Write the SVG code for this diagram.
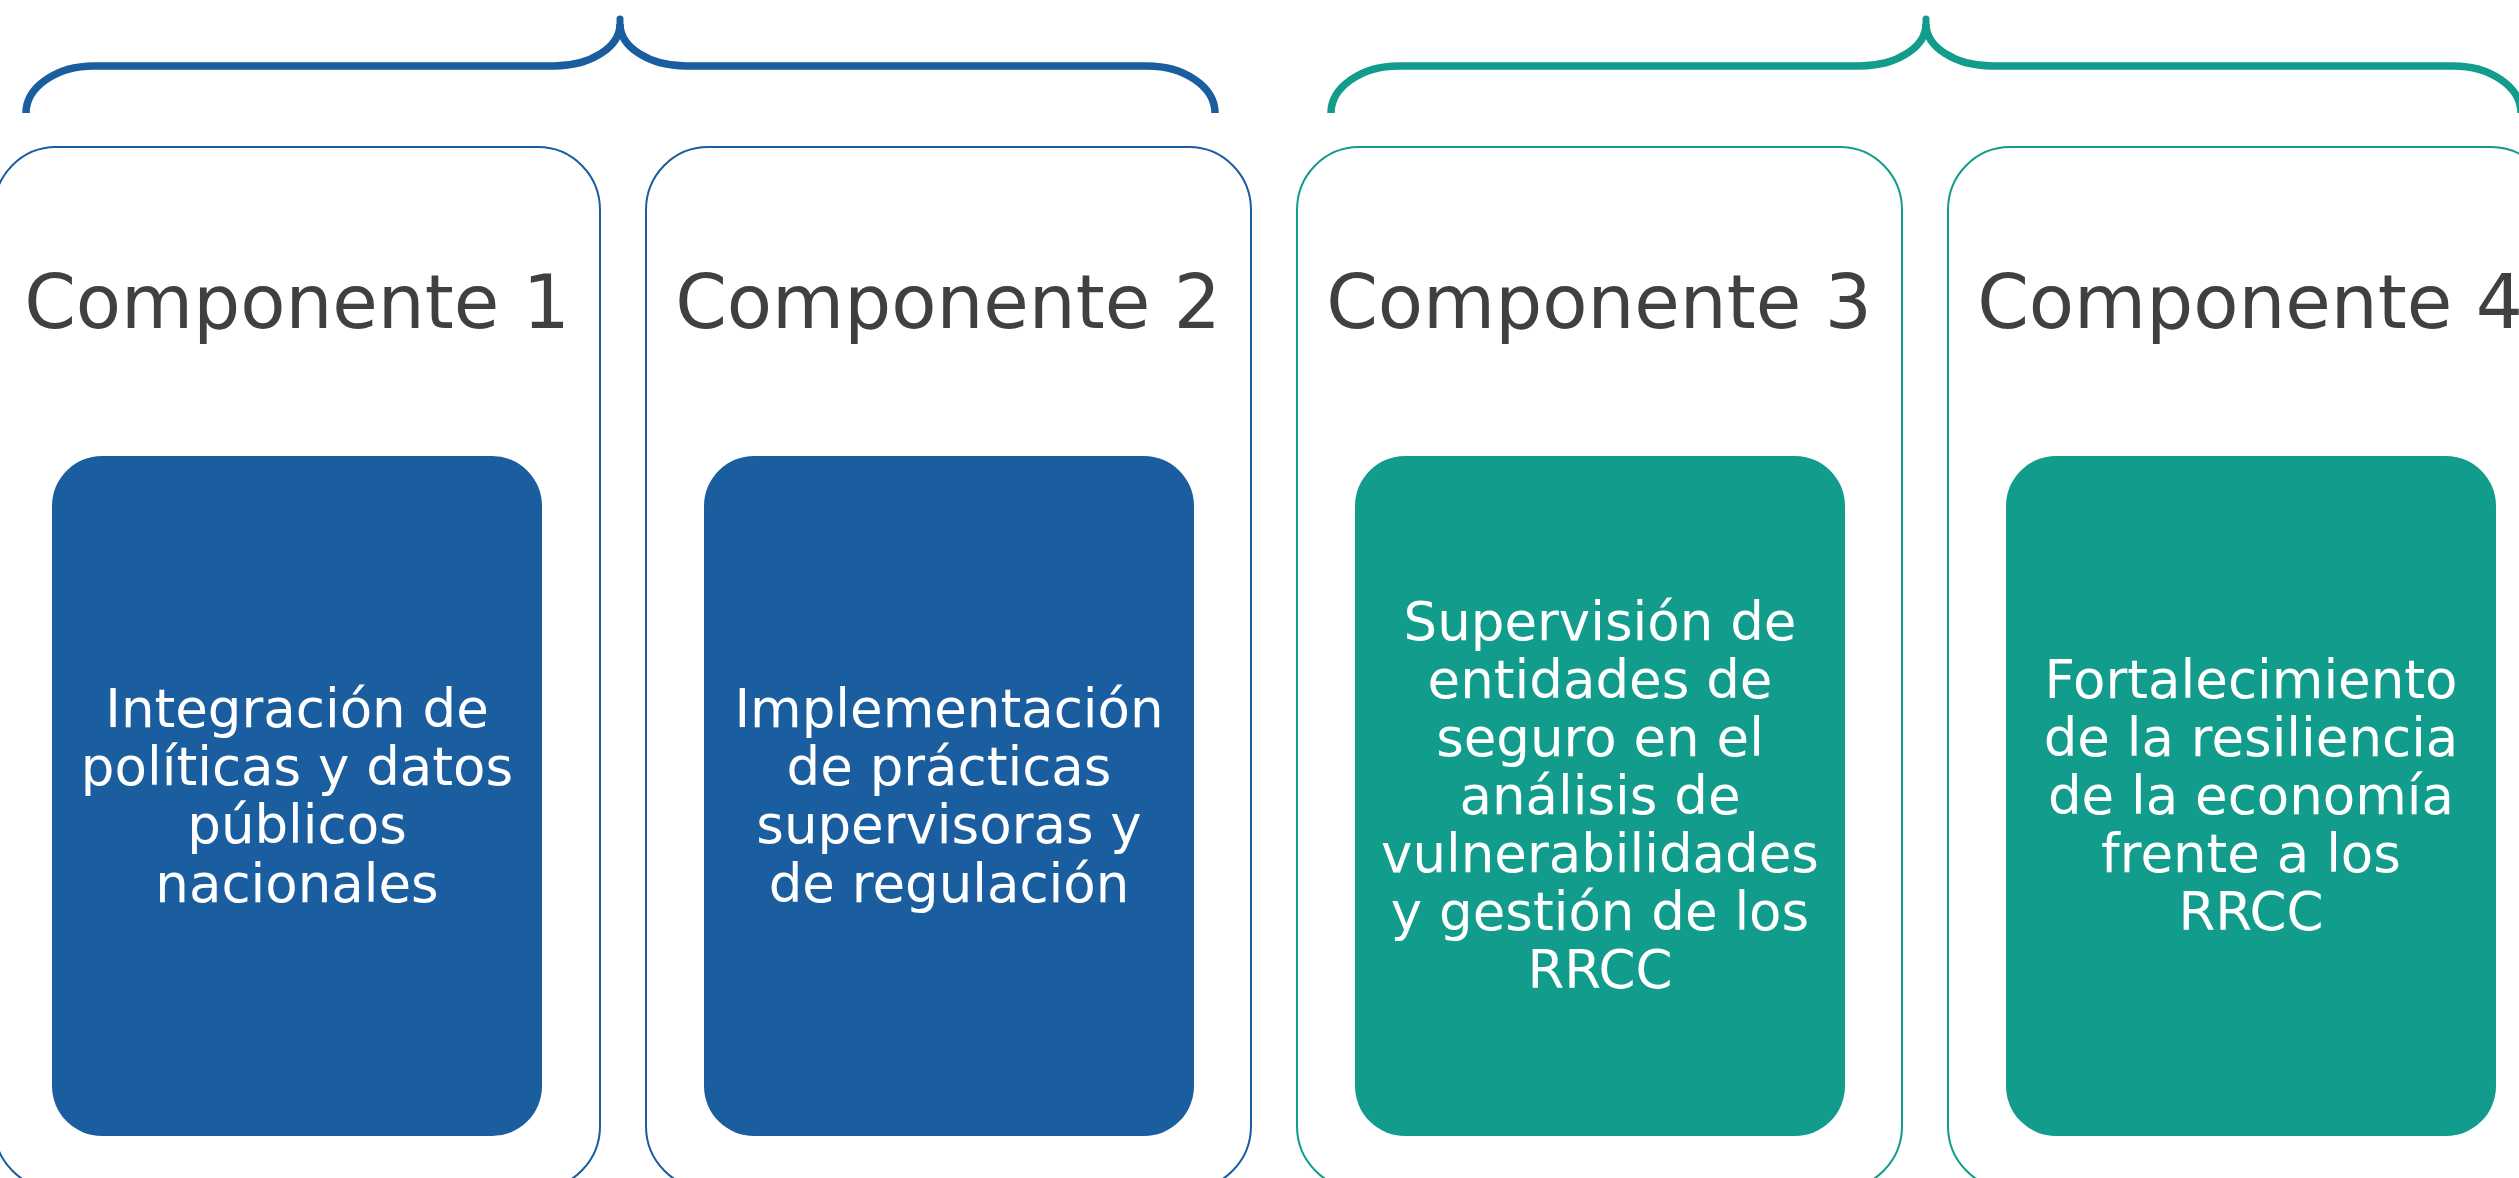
<svg xmlns="http://www.w3.org/2000/svg" width="2519" height="1178" viewBox="0 0 2519 1178">
<style>
.bg{fill:#ffffff}
.brace{fill:none;stroke-width:7.5;stroke-linecap:butt}
.tip{fill:none;stroke-width:7;stroke-linecap:round}
.blue{stroke:#1B5EA0}
.teal{stroke:#119C8C}
.outer{fill:#ffffff;stroke-width:2}
.innerB{fill:#1B5EA0}
.innerT{fill:#119C8C}
.title{font-family:"DejaVu Sans","Verdana",sans-serif;font-size:74px;fill:#404040;text-anchor:middle}
.body{font-family:"DejaVu Sans","Verdana",sans-serif;font-size:53px;fill:#ffffff;text-anchor:middle}
</style>
<rect class="bg" x="0" y="0" width="2519" height="1178"/>
<g id="braces">
  <path class="brace blue" d="M26,113 A68,47 0 0 1 94,66 H554 A66,42 0 0 0 620,24 M620,24 A66,42 0 0 0 686,66 H1147 A68,47 0 0 1 1215,113"/>
  <path class="tip blue" d="M620,26 V19"/>
  <path class="brace teal" d="M1331,113 A68,47 0 0 1 1399,66 H1860 A66,42 0 0 0 1926,24 M1926,24 A66,42 0 0 0 1992,66 H2453 A68,47 0 0 1 2521,113"/>
  <path class="tip teal" d="M1926,26 V19"/>
</g>
<g id="comp1">
  <rect class="outer blue" x="-6" y="147" width="606" height="1042" rx="62" ry="63"/>
  <text class="title" x="297" y="328">Componente 1</text>
  <rect class="innerB" x="52" y="456" width="490" height="680" rx="50" ry="50"/>
  <text class="body" x="297"><tspan x="297" y="727">Integración de</tspan><tspan x="297" y="785">políticas y datos</tspan><tspan x="297" y="843">públicos</tspan><tspan x="297" y="902">nacionales</tspan></text>
</g>
<g id="comp2">
  <rect class="outer blue" x="646" y="147" width="605" height="1042" rx="62" ry="63"/>
  <text class="title" x="948" y="328">Componente 2</text>
  <rect class="innerB" x="704" y="456" width="490" height="680" rx="50" ry="50"/>
  <text class="body" x="949"><tspan x="949" y="727">Implementación</tspan><tspan x="949" y="785">de prácticas</tspan><tspan x="949" y="843">supervisoras y</tspan><tspan x="949" y="902">de regulación</tspan></text>
</g>
<g id="comp3">
  <rect class="outer teal" x="1297" y="147" width="605" height="1042" rx="62" ry="63"/>
  <text class="title" x="1599" y="328">Componente 3</text>
  <rect class="innerT" x="1355" y="456" width="490" height="680" rx="50" ry="50"/>
  <text class="body" x="1600"><tspan x="1600" y="640">Supervisión de</tspan><tspan x="1600" y="698">entidades de</tspan><tspan x="1600" y="756">seguro en el</tspan><tspan x="1600" y="814">análisis de</tspan><tspan x="1600" y="872">vulnerabilidades</tspan><tspan x="1600" y="930">y gestión de los</tspan><tspan x="1600" y="988">RRCC</tspan></text>
</g>
<g id="comp4">
  <rect class="outer teal" x="1948" y="147" width="605" height="1042" rx="62" ry="63"/>
  <text class="title" x="2250" y="328">Componente 4</text>
  <rect class="innerT" x="2006" y="456" width="490" height="680" rx="50" ry="50"/>
  <text class="body" x="2251"><tspan x="2251" y="698">Fortalecimiento</tspan><tspan x="2251" y="756">de la resiliencia</tspan><tspan x="2251" y="814">de la economía</tspan><tspan x="2251" y="872">frente a los</tspan><tspan x="2251" y="930">RRCC</tspan></text>
</g>
</svg>
